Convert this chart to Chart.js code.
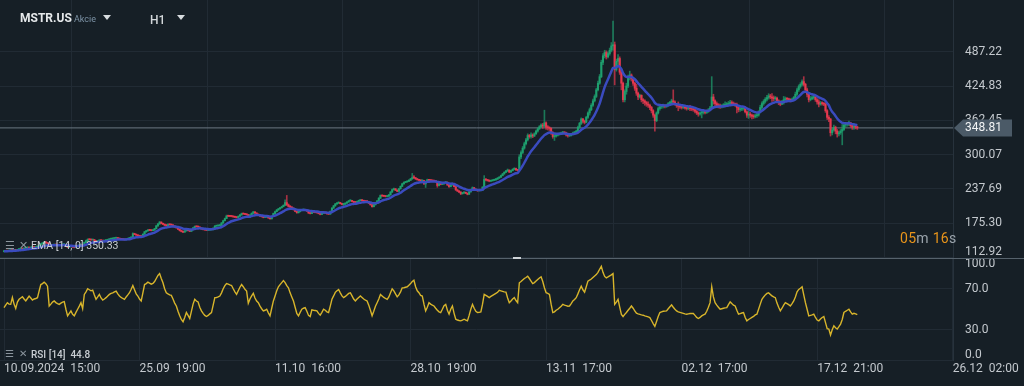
<!DOCTYPE html>
<html>
<head>
<meta charset="utf-8">
<script src="https://cdn.jsdelivr.net/npm/chart.js@4.4.1/dist/chart.umd.min.js"></script>
<style>
  html,body{margin:0;padding:0;background:#161f26;}
  body{width:1024px;height:386px;overflow:hidden;position:relative;font-family:Roboto,"Noto Sans",sans-serif;}
  canvas{position:absolute;left:0;display:block;}
  #pc{top:0;}
  #rc{top:258px;}
  .t{position:absolute;white-space:pre;line-height:1;}
  #sep{position:absolute;left:0;top:258px;width:1024px;height:1px;background:#56626c;}
  #handle{position:absolute;left:513px;top:257px;width:8px;height:2px;background:#cfd4d8;}
  .tri{position:absolute;width:0;height:0;border-left:4px solid transparent;border-right:4px solid transparent;border-top:5px solid #d8dcdf;}
  .ic{color:#8b959d;}
</style>
</head>
<body>
<canvas id="rc" width="1024" height="128"></canvas>
<canvas id="pc" width="1024" height="258"></canvas>
<div id="sep"></div><div id="handle"></div>
<div class="t" id="sym" style="left:20px;top:12px;font-size:12px;font-weight:700;color:#e6e9eb"></div>
<div class="t" id="cls" style="left:74px;top:15px;font-size:9px;color:#7d93a6"></div>
<div class="tri" style="left:103px;top:15px"></div>
<div class="t" id="tf" style="left:150px;top:14px;font-size:12px;font-weight:500;color:#d3d7da"></div>
<div class="tri" style="left:177px;top:15px"></div>
<div class="t ic" style="left:5px;top:240px;font-size:11px">☰</div>
<div class="t ic" style="left:19px;top:240px;font-size:11px">✕</div>
<div class="t" id="emaLbl" style="left:31px;top:241px;font-size:10.5px;color:#c9ced3"></div>
<div class="t ic" style="left:5px;top:349px;font-size:10px">☰</div>
<div class="t ic" style="left:19px;top:349px;font-size:10px">✕</div>
<div class="t" id="rsiLbl" style="left:31px;top:350px;font-size:10px;font-weight:500;color:#c9ced3"></div>
<div class="t" id="timer" style="left:900px;top:231px;font-size:14px;letter-spacing:0.3px"></div>
<script>
// ---------- DATA ----------
const symbol = 'MSTR.US';
const assetClass = 'Akcie';
const timeframe = 'H1';
const emaLabel = 'EMA [14, 0] 350.33';
const rsiLabel = 'RSI [14]  44.8';
const timerParts = [['05','#e8941a'],['m','#9aa3ab'],[' 16','#e8941a'],['s','#9aa3ab']];

const firstOpen = 123.8;
const closes = [
124.5,125.2,124.8,125.6,126.3,125.9,126.8,
126.2,127.5,128.4,129.2,128.6,129.8,130.6,
131.2,130.4,131.5,132.1,131.6,132.4,133.0,
135.5,138.2,139.0,140.6,139.8,138.5,134.2,
135.0,135.8,136.5,135.9,135.4,135.1,135.9,
136.4,136.8,134.5,131.8,132.6,133.4,132.0,
131.5,133.0,134.2,135.4,136.8,134.6,140.5,
143.5,146.0,145.5,145.0,145.3,144.0,142.0,
143.2,144.8,143.6,143.0,143.8,144.6,145.5,
146.5,147.0,147.6,148.2,148.8,147.6,146.8,
146.2,145.8,145.3,146.4,147.5,148.6,150.2,
156.5,155.0,153.8,152.5,151.8,151.2,155.5,
159.8,161.5,163.0,162.4,162.0,162.8,165.5,
170.5,174.0,177.5,175.0,173.5,171.8,171.0,
173.0,172.6,172.2,170.5,168.6,167.0,164.5,
162.0,160.4,159.2,161.5,163.6,162.0,160.8,
163.8,167.0,169.6,169.0,168.6,166.5,165.0,
164.0,163.2,162.6,163.0,163.4,163.8,166.5,
170.2,170.6,171.0,171.4,176.0,180.0,184.0,
188.5,188.2,188.0,187.8,187.0,186.4,185.8,
188.0,190.5,193.0,192.2,191.5,191.0,186.5,
190.5,193.5,196.0,194.0,192.0,189.8,188.5,
187.5,186.0,186.4,187.0,185.0,183.5,188.0,
193.0,196.5,199.5,201.5,203.5,205.5,208.0,
213.0,209.0,206.0,205.0,203.0,200.0,197.0,
194.5,196.5,198.5,199.5,200.0,199.0,197.5,
194.0,193.0,196.0,195.5,195.0,194.5,193.0,
191.5,193.5,195.0,194.0,192.5,192.0,197.0,
203.0,207.0,210.5,212.0,213.0,211.0,209.5,
210.0,212.0,214.0,216.0,216.8,215.0,213.5,
213.0,215.0,216.5,217.5,216.5,215.5,215.0,
214.5,212.0,209.0,205.5,209.0,213.0,216.0,
221.0,226.0,225.0,224.5,224.0,224.5,227.0,
232.0,236.5,238.0,235.5,233.5,238.0,242.5,
247.0,249.5,250.5,251.5,253.5,256.0,258.5,
258.0,256.0,254.5,253.5,252.5,253.0,247.0,
251.0,254.5,253.5,253.0,252.5,252.0,251.0,
244.0,247.5,246.0,247.0,249.0,250.0,245.0,
242.0,245.0,247.5,242.0,236.0,234.0,232.0,
229.0,230.5,231.5,230.0,228.0,232.5,236.5,
240.0,237.5,235.5,234.5,235.0,235.5,241.0,
255.0,254.0,253.0,252.0,252.5,253.5,254.5,
255.5,257.5,259.0,262.0,265.0,268.0,270.5,
272.0,268.5,271.0,273.5,275.0,272.5,271.5,
296,304,312,320,327,335,333,
336,334,338,343,347,351,354,
352,358,350,349,348,340,333,
334,335.5,337,338,339.5,340.5,339.5,
336,334.5,335,337,339.5,341,343,
350,357,365,361,359,368,376,
382,390,398,406,418,430,442,
468,480,486,478,484,490,498,
500,455,470,475,450,430,400,
415,425,440,445,438,430,421,
412,405,408,400,398,395,392,
390,386,380,372,362,376,384,
387,388,389,388,390,393,395,
398,396,392,389,
388,387,386,387,385,384,385,
384,383,382,379,376,374,376,
377,378,377,379,381,385,405,
398,393,390,389,388,389,390,
391,391.5,393,395,393,392,391,
386,382,383,384,385,378,372,
374,372,370,369,371,372,378,
386,393,397,401,404,407,405,
403,402,403,398,395,392,396,
400,402,401,400,399,401,404,
410,418,424,428,433,428,418,
410,400,402,404,405,400,396,
392,394,393,392,380,368,365,
340,345,350,343,338,340,343,
346,354,355,356,358,353,350,
352,350,348.81
];
const highs = [
125.4,126.0,125.7,126.1,126.9,126.6,127.3,
127.4,128.1,129.0,129.9,129.5,130.3,131.2,
131.9,131.6,132.0,132.8,132.5,132.9,133.6,
136.2,138.9,139.8,141.5,142.0,140.2,138.9,
136.0,136.4,137.1,136.8,136.3,135.9,136.5,
137.3,137.5,137.2,134.9,133.2,134.0,133.8,
132.6,133.6,134.9,136.0,137.6,137.2,141.3,
144.6,147.2,146.6,146.0,146.1,145.8,144.5,
144.0,145.5,145.2,144.1,144.4,145.2,146.0,
147.4,147.8,148.3,149.0,149.6,149.2,148.1,
147.5,146.8,146.4,146.9,148.2,149.3,150.8,
158.0,157.2,155.6,154.4,153.1,152.6,156.2,
160.6,162.4,163.9,163.6,163.0,163.5,166.2,
171.8,175.2,178.6,178.0,175.8,174.2,172.6,
174.2,173.8,173.4,172.8,171.0,169.2,167.6,
165.0,162.8,161.0,162.2,164.4,164.0,162.6,
164.6,167.8,170.5,170.2,169.6,169.0,167.0,
165.8,164.6,163.8,163.9,164.1,164.5,167.2,
171.2,171.6,171.8,172.3,176.8,181.0,184.9,
190.2,189.4,189.0,188.7,188.2,187.5,186.9,
188.8,191.4,193.9,193.6,192.6,192.0,191.4,
191.3,194.4,197.0,196.6,194.5,192.4,190.4,
189.6,188.2,187.2,187.8,187.5,185.6,188.8,
193.9,197.4,200.5,202.6,204.4,206.4,209.0,
218.0,226.0,210.5,207.2,205.6,203.6,200.8,
198.0,197.4,199.4,200.4,201.0,200.6,199.5,
198.0,194.8,196.8,196.6,196.0,195.6,195.0,
193.8,194.3,195.9,195.6,194.4,193.2,197.8,
204.0,208.0,211.5,213.0,214.2,213.5,211.6,
211.8,212.9,214.8,217.0,218.0,217.2,215.6,
214.8,215.9,217.4,218.5,218.0,217.0,216.2,
216.0,215.2,212.6,209.6,209.8,213.8,216.9,
222.0,227.0,226.8,225.8,225.2,225.4,227.8,
233.2,237.6,239.4,238.6,236.2,238.8,243.4,
248.2,250.6,251.6,252.4,254.6,257.2,266.0,
262.0,258.8,256.8,255.4,254.4,253.9,253.6,
252.4,255.6,255.2,254.4,253.6,253.2,252.8,
251.6,248.4,248.0,247.8,249.8,251.0,250.6,
247.0,246.0,248.6,248.0,242.8,237.0,234.9,
233.0,231.6,232.6,232.0,230.6,233.4,237.4,
241.5,240.8,238.2,236.4,236.0,236.6,242.0,
262.0,256.6,255.0,254.0,253.6,254.6,255.6,
256.6,258.6,260.2,263.2,266.2,269.2,271.8,
274.0,272.6,272.0,274.6,276.4,275.6,273.6,
300,307,315,323,330,338,337,
340,338,340,345,349,353,356,
357,381,360,353,351,349,342,
338,338,339,340,341,342.5,342,
341,337.5,337,338.5,341,342.5,344.5,
352,359,367,366,363,370,378,
385,393,401,409,421,434,446,
472,484,490,489,487,494,504,
543,505,474,482,478,452,432,
418,430,445,452,447,440,432,
428,414,410,409,402,400,397,
396,392,388,382,374,378,387,
391,391,392,391,392,395,397,
401,418,398,393,
396,391,390,389,389,387,387,
390,387,386,384,381,378,378,
381,381,380,381,384,388,442,
410,400,396,393,392,391,393,
396,395,397,399,398,396,394,
394,389,387,387,388,387,380,
380,377,374,373,374,376,380,
390,396,400,404,408,411,410,
411,407,406,405,400,398,399,
406,405,404,403,402,403,406,
414,421,427,431,436,442,430,
421,412,406,407,408,407,402,
400,397,396,395,394,382,371,
366,349,354,352,346,343,346,
355,358,359,359,361,359,355,
357,354,352
];
const lows = [
123.2,124.1,124.3,124.4,125.2,125.4,125.6,
125.5,125.9,127.1,128.0,128.1,128.3,129.4,
130.1,129.9,130.0,131.1,131.2,131.2,132.0,
132.6,135.0,137.6,138.5,139.0,137.9,133.6,
133.4,134.6,135.3,135.5,135.0,134.5,134.8,
135.4,136.0,134.0,131.2,131.3,132.2,131.6,
130.6,131.1,132.6,133.8,135.0,134.0,134.2,
140.0,143.0,144.8,144.4,144.5,143.5,141.4,
141.2,142.8,143.2,142.5,142.7,143.4,144.2,
145.0,146.0,146.6,147.2,147.8,147.2,146.3,
145.6,145.2,144.6,144.9,146.0,147.1,148.2,
150.0,154.5,153.2,152.0,151.2,150.5,150.9,
155.0,159.0,161.0,161.8,161.4,161.6,162.5,
165.0,169.8,173.4,174.2,172.8,171.0,170.2,
170.2,171.9,171.5,170.0,168.0,166.4,163.9,
161.2,159.6,158.4,158.8,161.0,161.4,160.0,
160.2,163.0,166.4,168.4,168.0,166.0,164.4,
163.2,162.6,161.9,162.2,162.6,163.0,163.4,
166.0,169.5,170.0,170.4,171.0,175.4,179.4,
183.6,187.3,187.2,187.0,186.2,185.7,185.0,
185.2,187.6,190.0,191.6,190.8,190.3,185.9,
186.0,190.0,193.0,193.4,191.3,189.2,187.9,
186.5,185.2,185.5,186.0,184.3,182.6,183.0,
187.5,192.4,196.0,199.0,200.8,203.0,205.0,
207.4,207.5,204.8,203.9,202.0,199.2,196.3,
193.6,193.9,196.0,198.0,199.0,198.3,196.8,
193.2,192.2,192.8,194.8,194.3,193.8,192.4,
190.6,191.0,193.0,193.3,191.8,191.2,191.6,
196.5,202.3,206.2,209.6,211.2,210.3,208.7,
207.6,209.4,211.4,213.5,215.2,214.2,212.8,
211.8,212.5,214.6,216.0,215.7,214.8,214.2,
213.6,211.2,208.2,204.5,205.0,208.4,212.4,
215.5,220.2,224.2,223.8,223.2,223.4,224.0,
226.4,231.5,235.6,234.6,232.6,233.0,237.4,
242.0,246.3,249.0,250.0,251.0,253.0,255.4,
256.6,255.0,253.6,252.6,251.6,251.8,246.2,
240.5,250.2,252.6,252.0,251.6,251.2,250.2,
240.8,243.2,245.2,245.5,246.4,248.4,244.2,
240.6,241.4,244.4,241.3,235.2,233.0,231.0,
227.4,228.4,229.8,229.2,227.0,227.6,231.8,
235.8,236.6,234.6,233.4,233.8,234.4,235.0,
240.5,252.2,251.8,250.8,251.2,252.2,253.0,
253.4,255.0,257.0,258.6,261.4,264.6,267.6,
269.4,267.4,267.8,270.4,272.6,271.4,270.4,
271,293,302,310,318,325,330,
330,331,333,337,341,346,349,
348,350,346,345,344,337,330,
326,332,334,335.5,336.5,338,337.5,
334,332,333,334,336,338.5,340,
342,348,355,358,356,358,366,
372,380,388,396,404,416,428,
440,464,476,474,476,481,487,
490,427,452,462,446,418,396,
396,410,422,436,434,426,417,
408,400,403,396,393,390,388,
386,382,376,368,343,360,374,
381,384,385,385,386,388,391,
393,394,390,386,
380,384,383,384,383,381,382,
380,380,379,376,373,370,372,
367,374,374,375,377,380,384,
392,388,386,385,384,385,386,
387,388,390,391,390,389,388,
376,378,379,380,381,376,368,
366,368,365,366,367,368,370,
376,383,390,394,398,401,402,
397,398,399,395,391,389,391,
392,397,398,397,396,397,399,
402,408,415,421,425,425,414,
405,396,398,400,401,397,392,
387,390,390,389,377,364,360,
334,336,343,338,332,334,337,
318,344,350,352,353,350,346,
346,347,346
];
const rsiValues = [
51.6,54,56.4,55,54.8,61.5,55,
50.8,57,59.7,61,62.2,60,58.1,
60.5,62.9,61,59,60,60.5,61.3,
68,74.1,75,76.4,75,72.5,53.2,
55,57,58.1,56.5,55.5,54.8,56,
57,57.4,50,43.6,46,48.4,45,
43.6,47,50,53,56.4,50.6,64.5,
67,70,69,68,68.7,64,59.7,
62,64.5,61,59,60,61.3,63,
64.5,65.5,66,67,67.7,65,62.9,
61.5,60.5,59.7,62,64,66.1,69.5,
73.2,69,65,62.9,60,58.1,66,
74.1,75,76.4,75.5,74.5,75.1,77,
80,83,84.8,80,75.8,70,66.1,
65,64,63.5,60,56,53.2,48,
43.6,40,37.8,42,46.8,44,41,
48,55,59.7,58,57.1,52,48.4,
46,44,42.9,44,45.5,46.8,54,
61.3,61.5,62,62.9,66,70,73,
75.1,74.5,73.8,73.2,70,67,64.5,
68,71.5,74.1,72,69.5,67.7,55.8,
60,63,65.5,61,58,56.4,53,
50.5,48.4,49,50,46.5,43.6,51,
58.1,63,68,71.9,74,76,78,
76,73,70.9,66,62,58.1,52,
46,43.6,47,50,51,51.6,48,
44,42.9,49.4,49,48.8,48.4,46,
44.2,47,50,49,47.5,46.8,53,
59.7,63,66.5,68,69.3,66,63,
61.3,62.5,64,65.5,66.1,63,60,
58.1,60,61.5,62.9,61.5,60,59,
58.1,54,49,43.6,48,53,56.4,
60,64.5,63,61.5,60.5,59.7,62,
66,70,68,65,62.2,64,67,
70.9,71,71.5,71.9,73.5,75,77,
78.3,72,68,66.1,63.5,62.9,55,
48.4,52,56.4,55,54,53.2,51,
49,47.5,46.8,50,53.5,54.8,49,
45.2,50,53.2,46,40.3,39.5,39,
38.7,39.5,40.3,39.5,38.7,44,50,
54.8,51,48,46.8,47,47.4,55,
64.5,63.5,62.5,61.3,62.5,63.5,64.5,
65.5,66.5,68.5,68,67.5,67,66.7,
61,56.4,58,60,61.3,58.5,56.4,
75.8,77,78.5,80,81,82.2,80,
77.5,75.1,76,77.5,79,80.5,81.6,
77,71,66.1,65.5,64.5,55,46.8,
47.5,49,50,51.5,53,54.8,54,
53.5,53,53.2,55.5,58.1,59.5,61.3,
65,69,72.5,69,66.7,72,77.4,
78.5,79.5,81,82.5,83.8,86,89,
91.9,86,82,80.6,81.5,82.5,83.5,
84.8,54.8,57,59.7,52,45,42.9,
45,46.8,49,51,53.2,51,48.5,
46.1,45.5,45,44.5,44.2,43.5,43,
42.5,41.9,39,36,33.3,38,43,
46.8,47.5,48,48.2,48.4,50.5,52.5,
54.2,52,50,48.4,
47.5,47,46.5,46,45.5,45.2,45.5,
45.8,45.8,45.8,44,42,41,42,
43.5,44.5,45.2,48,52,56.4,71.9,
62,56.4,54,52,50,50.5,51,
51.3,51.6,54.5,57.1,55.5,54,53.2,
49,45.2,45.8,46.3,46.8,42,38.7,
40,41,42,43,44.5,45.2,50,
55,59.7,62,64,65.5,66.1,64.5,
63,62,61.3,56,52,48.4,51,
54,56.4,55.5,54.5,53.2,55.5,58.1,
62,67,69.3,70.5,71.9,64,56.4,
50,43.6,44,44.5,45.2,42,39.5,
38.7,40.5,42,42.9,37,31,30.7,
24.9,30,33.9,32,30.7,33,35.5,
40,46.8,48,49,50,47.5,45.2,
46,45.5,44.8
];
const priceTicks = [112.92,175.30,237.69,300.07,362.45,424.83,487.22];
const rsiTicks = [0,30,70,100];
const xTickIdx = [0,81,162,243,324,405,486,567];
const xTickLabels = ['10.09.2024  15:00','25.09  19:00','11.10  16:00','28.10  19:00','13.11  17:00','02.12  17:00','17.12  21:00','26.12  02:00'];
const emaPeriod = 14;

// ---------- DERIVED ----------
const N = closes.length;
const opens = closes.map((c,i)=> i===0 ? firstOpen : closes[i-1]);
const lastPrice = closes[N-1];
const ema = [];
const kf = 2/(emaPeriod+1);
closes.forEach((c,i)=>{ ema.push(i===0 ? c : c*kf + ema[i-1]*(1-kf)); });

const GREEN = '#1e9f6e', RED = '#e5384e';
const GREEN_W = 'rgba(30,159,110,0.7)', RED_W = 'rgba(229,56,78,0.7)';
const isUp = closes.map((c,i)=> c >= opens[i]);

// ---------- TEXT OVERLAYS ----------
document.getElementById('sym').textContent = symbol;
document.getElementById('cls').textContent = assetClass;
document.getElementById('tf').textContent = timeframe;
document.getElementById('emaLbl').textContent = emaLabel;
document.getElementById('rsiLbl').textContent = rsiLabel;
const tm = document.getElementById('timer');
timerParts.forEach(([t,c])=>{ const s=document.createElement('span'); s.textContent=t; s.style.color=c; tm.appendChild(s); });

// ---------- CHARTS ----------
Chart.defaults.font.family = 'Roboto';
Chart.defaults.animation = false;
const GRID = '#212b34';
const LBL = '#c4c9ce';

function xScale(showLabels){
  return {
    type:'linear', min:-2.4, max:567.2, offset:false,
    afterBuildTicks: s => { s.ticks = xTickIdx.map(v=>({value:v})); },
    ticks:{display:showLabels, autoSkip:false, maxRotation:0, minRotation:0, align:'start', padding:1,
      color:LBL, font:{size:12}, callback:(v,idx)=> xTickLabels[idx]},
    grid:{color:GRID, drawTicks:false, lineWidth:1},
    border:{display:false},
    afterFit: s => { s.height = showLabels ? 25.5 : 0; s.paddingLeft = 0; s.paddingRight = 0; }
  };
}
function yFit(s){ s.width = 71; s.paddingTop = 0; s.paddingBottom = 0; }

const tagPlugin = {
  id:'tag',
  afterDraw(chart){
    const y = chart.scales.y.getPixelForValue(lastPrice);
    const ctx = chart.ctx;
    const x0 = chart.chartArea.right + 1;
    ctx.save();
    ctx.fillStyle = '#4b5a67';
    ctx.beginPath();
    ctx.moveTo(x0, y);
    ctx.lineTo(x0+9, y-8.5);
    ctx.lineTo(1012, y-8.5);
    ctx.lineTo(1012, y+8.5);
    ctx.lineTo(x0+9, y+8.5);
    ctx.closePath();
    ctx.fill();
    ctx.fillStyle = '#f2f4f5';
    ctx.font = '12px Roboto';
    ctx.textBaseline = 'middle';
    ctx.textAlign = 'left';
    ctx.fillText(lastPrice.toFixed(2), 965, y+0.5);
    ctx.restore();
  }
};

new Chart(document.getElementById('pc'), {
  type:'bar',
  data:{
    datasets:[
      { type:'line', data:[{x:-3,y:lastPrice},{x:570,y:lastPrice}], borderColor:'#6b7782', borderWidth:1, pointRadius:0, order:5 },
      { data: closes.map((c,i)=>({x:i, y:[lows[i], highs[i]]})), backgroundColor: isUp.map(u=>u?GREEN_W:RED_W),
        barThickness:1, grouped:false, order:4 },
      { data: closes.map((c,i)=>({x:i, y:[opens[i], c]})), backgroundColor: isUp.map(u=>u?GREEN:RED),
        barThickness:1.4, minBarLength:1, grouped:false, order:3 },
      { type:'line', data: ema.map((v,i)=>({x:i,y:v})), borderColor:'#3a4bbf', borderWidth:2.5, pointRadius:0, tension:0.2, order:1 }
    ]
  },
  options:{
    responsive:false, animation:false, events:[],
    devicePixelRatio:1,
    layout:{padding:0, autoPadding:false},
    plugins:{legend:{display:false}, tooltip:{enabled:false}},
    scales:{
      x: xScale(false),
      y: {
        position:'right', min:112.19, max:581.4,
        afterBuildTicks: s => { s.ticks = priceTicks.map(v=>({value:v})); },
        ticks:{color:LBL, padding:12, autoSkip:false, font:{size:12, lineHeight:1},
          callback: v => v===priceTicks[0] ? [v.toFixed(2), ''] : v.toFixed(2)},
        grid:{color:GRID, drawTicks:false},
        border:{display:true, color:'#27323c'},
        afterFit: yFit
      }
    }
  },
  plugins:[tagPlugin]
});

new Chart(document.getElementById('rc'), {
  type:'line',
  data:{ datasets:[ { data: rsiValues.map((v,i)=>({x:i,y:v})), borderColor:'#d8b52b', borderWidth:1.4, pointRadius:0, tension:0 } ] },
  options:{
    responsive:false, animation:false, events:[],
    devicePixelRatio:1,
    layout:{padding:0, autoPadding:false},
    plugins:{legend:{display:false}, tooltip:{enabled:false}},
    scales:{
      x: xScale(true),
      y: {
        position:'right', min:0, max:100,
        afterBuildTicks: s => { s.ticks = rsiTicks.map(v=>({value:v})); },
        ticks:{color:LBL, padding:12, autoSkip:false, font:{size:12, lineHeight:1},
          callback: v => v===100 ? ['', v.toFixed(1)] : (v===0 ? [v.toFixed(1), ''] : v.toFixed(1))},
        grid:{color:GRID, drawTicks:false},
        border:{display:true, color:'#27323c'},
        afterFit: yFit
      }
    }
  }
});
</script>
</body>
</html>
